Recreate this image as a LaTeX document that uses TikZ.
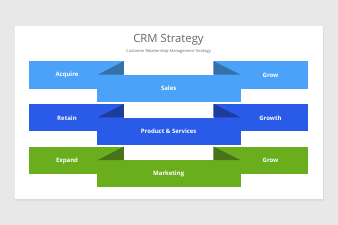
\documentclass[tikz,border=0pt]{standalone}
\usepackage{fontspec}
\setmainfont{Open Sans}
\usetikzlibrary{calc}
\definecolor{bgc}{HTML}{E9E8E9}
\definecolor{cardshadow}{HTML}{DCDCDC}
\definecolor{titlec}{HTML}{666666}
\definecolor{lblue}{HTML}{4AA3F8}
\definecolor{lbluef}{HTML}{3670A8}
\definecolor{dblue}{HTML}{2A5AE8}
\definecolor{dbluef}{HTML}{1D3C9C}
\definecolor{green}{HTML}{6BAE1D}
\definecolor{greenf}{HTML}{47731A}
\tikzset{
  sidebar/.style={rectangle, inner sep=0pt, minimum width=94.7pt, minimum height=27.4pt, fill=#1},
  midbar/.style={rectangle, inner sep=0pt, minimum width=144.4pt, minimum height=27pt, fill=#1, text=white, font=\bfseries\fontsize{6}{7}\selectfont},
  lbl/.style={text=white, font=\bfseries\fontsize{6}{7}\selectfont, inner sep=0pt},
}
\begin{document}
\begin{tikzpicture}[x=1pt,y=-1pt]
\useasboundingbox (0,0) rectangle (338,225);
\fill[bgc] (0,0) rectangle (338,225);
\fill[cardshadow] (15,27) rectangle (323.7,200.5);
\fill[white] (15,26) rectangle (322.7,199);
\node[text=titlec, font=\fontsize{11.3}{13}\selectfont, inner sep=0pt] (title) at (168.5,39.5) {CRM Strategy};
\node[text=titlec, font=\fontsize{4}{5}\selectfont, inner sep=0pt] (sub) at (168.5,51.5) {Customer Relationship Management Strategy};
% rows
\foreach \r/\y/\c/\f/\l/\m/\rr in {1/61.3/lblue/lbluef/Acquire/Sales/Grow, 2/104/dblue/dbluef/Retain/Product \& Services/Growth, 3/146.7/green/greenf/Expand/Marketing/Grow}{
  \node[sidebar=\c] (L\r) at (76.35,\y+13.7) {};
  \node[sidebar=\c] (R\r) at (261,\y+13.7) {};
  \node[lbl] (Lt\r) at (67,\y+13.9) {\l};
  \node[lbl] (Rt\r) at (270.5,\y+13.9) {\rr};
  \node[midbar=\c, anchor=north west] (M\r) at (96.3,\y+13.4) {\m};
  \fill[\f] ($(M\r.north west)+(1.5,0)$) -- (L\r.north east) -- (L\r.north east |- M\r.north) -- cycle;
  \fill[\f] ($(M\r.north east)+(-0.5,0)$) -- (R\r.north west) -- (R\r.north west |- M\r.north) -- cycle;
}
\end{tikzpicture}
\end{document}
